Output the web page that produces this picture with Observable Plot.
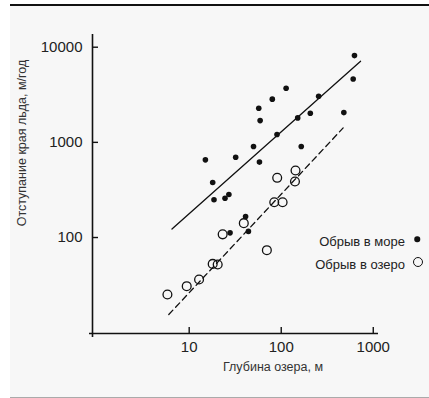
<!DOCTYPE html>
<html>
<head>
<meta charset="utf-8">
<script src="https://cdn.jsdelivr.net/npm/d3@7"></script>
<script src="https://cdn.jsdelivr.net/npm/@observablehq/plot@0.6"></script>
<style>
  html, body { margin: 0; padding: 0; background: #ffffff; }
  #wrap { position: relative; width: 429px; height: 398px; overflow: hidden; font-family: "Liberation Sans", Arial, sans-serif; }
  #panel { position: absolute; left: 10px; top: 4px; width: 419px; height: 391px; background: #f7f7f7; border-top: 2px solid #111; border-bottom: 2px solid #aaa; }
  #chart { position: absolute; left: 0; top: 0; }
  .t { position: absolute; color: #333; font-size: 12.5px; white-space: nowrap; }
  #ytitle { left: 22px; top: 143px; transform: translate(-50%, -50%) rotate(-90deg); }
  #xtitle { left: 273px; top: 367px; transform: translate(-50%, -50%); }
  .leg { position: absolute; right: 24px; font-size: 13px; color: #222; transform: translateY(-50%); white-space: nowrap; }
  .sym { position: absolute; transform: translate(-50%, -50%); border-radius: 50%; box-sizing: border-box; }
</style>
</head>
<body>
<div id="wrap">
  <div id="panel"></div>
  <div id="chart"></div>
  <div class="t" id="ytitle"></div>
  <div class="t" id="xtitle"></div>
  <div class="leg" id="leg1" style="top:241px"></div>
  <div class="sym" style="left:417px; top:239px; width:5.5px; height:5.5px; background:#111;"></div>
  <div class="leg" id="leg2" style="top:264px"></div>
  <div class="sym" style="left:418px; top:262px; width:10px; height:10px; border:1.3px solid #111;"></div>
</div>
<script>
// Labels
const xTitle = "Глубина озера, м";
const yTitle = "Отступание края льда, м/год";
const legendLabels = ["Обрыв в море", "Обрыв в озеро"];

// Axis ticks
const xTicks = [10, 100, 1000];
const yTicks = [100, 1000, 10000];
const xDomain = [0.89, 1140];
const yDomain = [9.8, 13600];

// Обрыв в море (filled dots): depth (m), retreat (m/yr)
const seaDepth   = [625, 605, 479, 255, 207, 151, 165, 113, 90, 80, 57, 59, 58, 50, 32, 15, 18, 18.6, 24.5, 27, 27.8, 41, 44];
const seaRetreat = [8160, 4640, 2055, 3055, 2023, 1807, 904, 3705, 1208, 2845, 2285, 1694, 620, 904, 698, 655, 379, 249, 259, 283, 112, 166, 116];

// Обрыв в озеро (open circles)
const lakeDepth   = [5.8, 9.4, 12.8, 18, 20.4, 23.1, 39.2, 69.8, 84, 103.5, 90.4, 141, 143];
const lakeRetreat = [25.2, 30.8, 36.2, 52.8, 52, 108, 141.6, 73.6, 235, 235, 424, 388, 506];

// Trend lines (endpoints)
const seaTrendDepth = [6.5, 728];
const seaTrendRetreat = [123, 7130];
const lakeTrendDepth = [6.0, 471];
const lakeTrendRetreat = [15.5, 1419];

const zip = (a, b) => a.map((v, i) => ({x: v, y: b[i]}));
const sea = zip(seaDepth, seaRetreat);
const lake = zip(lakeDepth, lakeRetreat);
const seaTrend = zip(seaTrendDepth, seaTrendRetreat);
const lakeTrend = zip(lakeTrendDepth, lakeTrendRetreat);

const ink = "#111";

const chart = Plot.plot({
  width: 429,
  height: 398,
  marginLeft: 92,
  marginRight: 51,
  marginTop: 34,
  marginBottom: 65,
  style: {background: "transparent", fontFamily: "Liberation Sans, Arial, sans-serif", color: "#222"},
  x: {type: "log", domain: xDomain},
  y: {type: "log", domain: yDomain},
  marks: [
    // axis lines
    Plot.ruleX([xDomain[0]], {stroke: ink, strokeWidth: 1.6, insetBottom: -4}),
    Plot.ruleY([yDomain[0]], {stroke: ink, strokeWidth: 1.6, insetLeft: -3}),
    // inward tick marks
    Plot.ruleX(xTicks, {x: d => d, y1: yDomain[0], y2: yDomain[0], insetTop: -6, stroke: ink, strokeWidth: 1.4}),
    Plot.ruleY(yTicks, {y: d => d, x1: xDomain[0], x2: xDomain[0], insetRight: -6, stroke: ink, strokeWidth: 1.4}),
    // tick labels
    Plot.axisX({ticks: xTicks, tickSize: 0, tickPadding: 8, tickFormat: d => String(d), fontSize: 15, label: null}),
    Plot.axisY({ticks: yTicks, tickSize: 0, tickPadding: 10, tickFormat: d => String(d), fontSize: 15, label: null}),
    // trend lines
    Plot.line(seaTrend, {x: "x", y: "y", stroke: ink, strokeWidth: 1.3}),
    Plot.line(lakeTrend, {x: "x", y: "y", stroke: ink, strokeWidth: 1.3, strokeDasharray: "6,4"}),
    // points
    Plot.dot(lake, {x: "x", y: "y", r: 4.4, stroke: ink, strokeWidth: 1.3, fill: "none"}),
    Plot.dot(sea, {x: "x", y: "y", r: 2.8, fill: ink, stroke: "none"})
  ]
});
document.getElementById("chart").appendChild(chart);
document.getElementById("xtitle").textContent = xTitle;
document.getElementById("ytitle").textContent = yTitle;
document.getElementById("leg1").textContent = legendLabels[0];
document.getElementById("leg2").textContent = legendLabels[1];
</script>
</body>
</html>
